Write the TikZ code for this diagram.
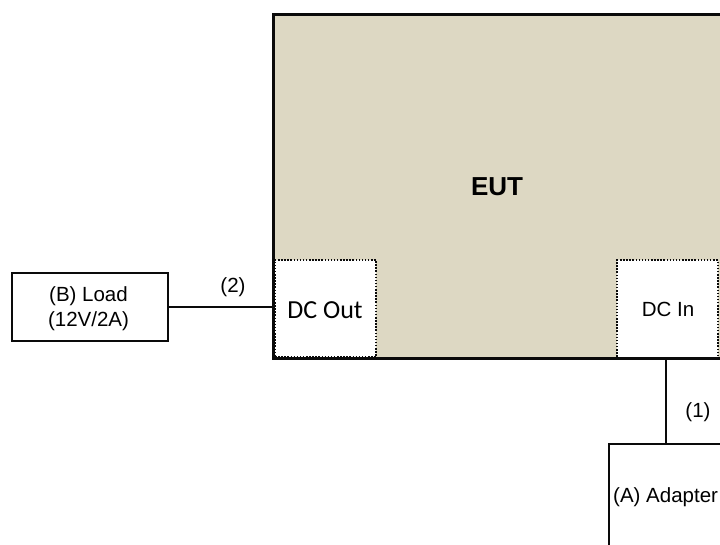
\documentclass[tikz,border=0pt]{standalone}
\usepackage{fontspec}
\setmainfont{Liberation Sans}
\newfontfamily\calfont{Carlito}
\definecolor{eutfill}{HTML}{DDD8C3}
\definecolor{edge}{HTML}{0A0A0A}
\tikzset{
  eutbox/.style={draw=edge, line width=3pt, fill=eutfill, inner sep=0pt},
  portbox/.style={draw=edge, line width=2pt, dash pattern=on 1.5pt off 1.6pt, fill=white, inner sep=0pt},
  plainbox/.style={draw=edge, line width=2.1pt, fill=white, inner sep=0pt},
  wire/.style={draw=edge, line width=2.3pt},
  lbl/.style={font=\fontsize{20.5}{25}\selectfont, inner sep=0pt, align=center}
}
\begin{document}
\begin{tikzpicture}[x=1pt,y=-1pt]
\useasboundingbox (0,0) rectangle (720,545);
\clip (0,0) rectangle (720,545);
\fill[white] (0,0) rectangle (720,545);
% EUT fill
\node[eutbox, draw=none, minimum width=450pt, minimum height=343pt] (eutfillnode) at (498,186.5) {};
% ports
\node[portbox, minimum width=101pt, minimum height=97pt] (dcout) at (325.5,308.5) {};
\node[portbox, minimum width=101pt, minimum height=97pt] (dcin) at (667.5,309) {};
% EUT border on top
\node[eutbox, fill=none, minimum width=450pt, minimum height=343pt] (eut) at (498,186.5) {};
\node[font=\fontsize{26}{30}\selectfont\bfseries, inner sep=0pt] (euttxt) at (497,187) {EUT};
\node[font=\calfont\fontsize{26}{30}\selectfont, inner sep=0pt] (dcouttxt) at (325,310) {DC Out};
\node[lbl, font=\fontsize{20.5}{24}\selectfont] (dcintxt) at (668,309.5) {DC In};
% Load
\node[plainbox, minimum width=156pt, minimum height=68pt] (load) at (90,307) {};
\node[lbl] (loadtxt) at (88.5,309) {(B) Load\\(12V/2A)};
% Adapter
\node[plainbox, minimum width=161pt, minimum height=116pt] (adapter) at (689.5,502) {};
\node[lbl, anchor=west] (adaptxt) at (613,497) {(A) Adapter};
% wires
\draw[wire] (load.east) -- (load.east -| eut.west);
\draw[wire] (666,358) coordinate (dcinbot) -- (dcinbot |- adapter.north);
\node[lbl] (l1) at (698,412) {(1)};
\node[lbl] (l2) at (233,287) {(2)};
\end{tikzpicture}
\end{document}
